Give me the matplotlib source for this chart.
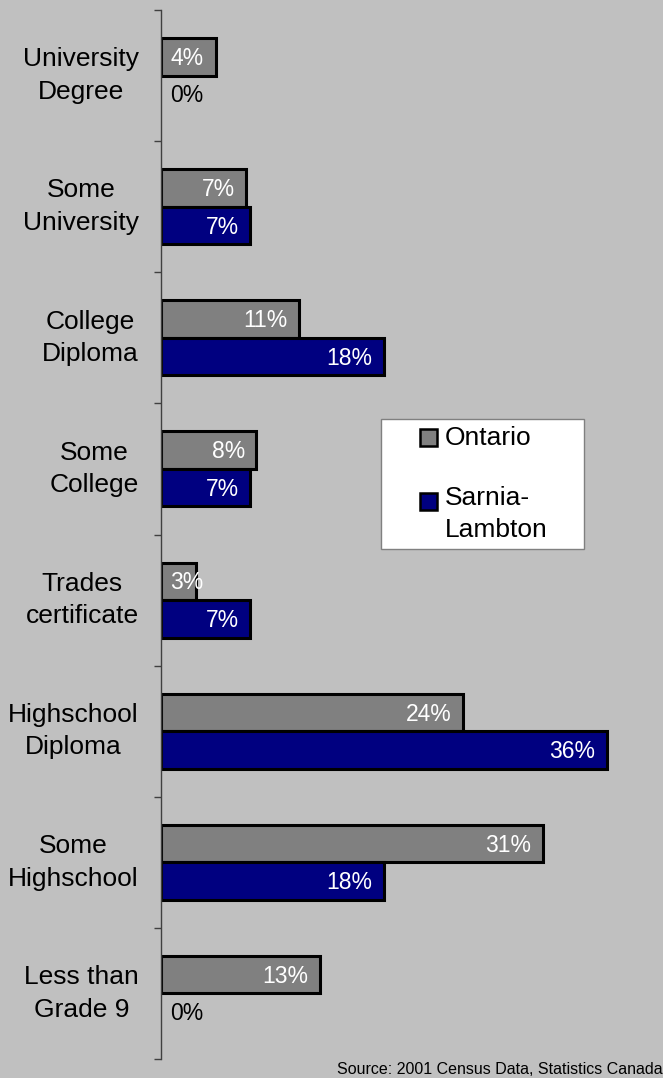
import numpy as np
import matplotlib.pyplot as plt
from matplotlib.patches import Rectangle

plt.rcParams['font.family'] = ['Liberation Sans', 'DejaVu Sans']

# Datos
categorias = ['University\nDegree', 'Some\nUniversity', 'College\nDiploma', 'Some\nCollege',
              'Trades\ncertificate', 'Highschool\nDiploma', 'Some\nHighschool', 'Less than\nGrade 9']
ontario = [4.4, 6.9, 11.1, 7.7, 2.8, 24.4, 30.8, 12.8]
sarnia = [0, 7.2, 18.0, 7.2, 7.2, 36.0, 18.0, 0]
ontario_txt = ['4%', '7%', '11%', '8%', '3%', '24%', '31%', '13%']
sarnia_txt = ['0%', '7%', '18%', '7%', '7%', '36%', '18%', '0%']

gris_fondo = '#C0C0C0'
col_ont = '#808080'
col_sar = '#000080'

W, H = 663, 1078
fig = plt.figure(figsize=(W / 100, H / 100), dpi=100, facecolor=gris_fondo)
ax = fig.add_axes([161 / W, 19 / H, (W - 161) / W, 1049 / H], facecolor=gris_fondo)

y = np.arange(len(categorias))
alto = 0.286
# sin borde en las barras de valor cero
ax.barh(y - alto / 2, ontario, height=alto, color=col_ont, edgecolor='black',
        linewidth=[2.2 if v > 0 else 0 for v in ontario])
ax.barh(y + alto / 2, sarnia, height=alto, color=col_sar, edgecolor='black',
        linewidth=[2.2 if v > 0 else 0 for v in sarnia])

# Etiquetas de valores
for i in range(len(categorias)):
    for v, t, dy in [(ontario[i], ontario_txt[i], -alto / 2), (sarnia[i], sarnia_txt[i], alto / 2)]:
        if v == 0:
            ax.text(0.7, y[i] + dy + 0.012, t, ha='left', va='center', fontsize=16.5, color='black')
        else:
            ax.text(max(v - 0.93, 3.4), y[i] + dy + 0.012, t, ha='right', va='center',
                    fontsize=16.5, color='white')

ax.set_xlim(0, (W - 161) / 12.39)
ax.set_ylim(len(categorias) - 0.5, -0.5)
ax.set_xticks([])

ax.set_yticks(y)
ax.set_yticklabels(categorias, fontsize=19, multialignment='center')
for lab in ax.get_yticklabels():
    lab.set_linespacing(1.45)
    lab.set_va('center')
ax.tick_params(axis='y', which='major', length=0, pad=22 * 0.72)
ax.set_yticks(np.arange(-0.5, len(categorias), 1), minor=True)
ax.tick_params(axis='y', which='minor', length=5, width=1, color='#404040', direction='out')

for s in ['top', 'right', 'bottom']:
    ax.spines[s].set_visible(False)
ax.spines['left'].set_color('#404040')
ax.spines['left'].set_linewidth(1)

# Leyenda
def px(x0, y0):
    return x0 / W, 1 - y0 / H

fig.patches.append(Rectangle(px(381, 549), 203 / W, 130 / H, transform=fig.transFigure,
                             facecolor='white', edgecolor='#808080', linewidth=1))
fig.patches.append(Rectangle(px(420, 446), 17 / W, 17 / H, transform=fig.transFigure,
                             facecolor=col_ont, edgecolor='black', linewidth=1.8))
fig.patches.append(Rectangle(px(420, 510), 17 / W, 17 / H, transform=fig.transFigure,
                             facecolor=col_sar, edgecolor='black', linewidth=1.8))
fig.text(*px(445, 438), 'Ontario', ha='left', va='center', fontsize=19)
fig.text(*px(445, 514), 'Sarnia-\nLambton', ha='left', va='center', fontsize=19, linespacing=1.45)

fig.text(1.0, 1 - 1069 / H, 'Source: 2001 Census Data, Statistics Canada', ha='right',
         va='center', fontsize=11.5)

plt.savefig('out.png', dpi=100, facecolor=gris_fondo)
